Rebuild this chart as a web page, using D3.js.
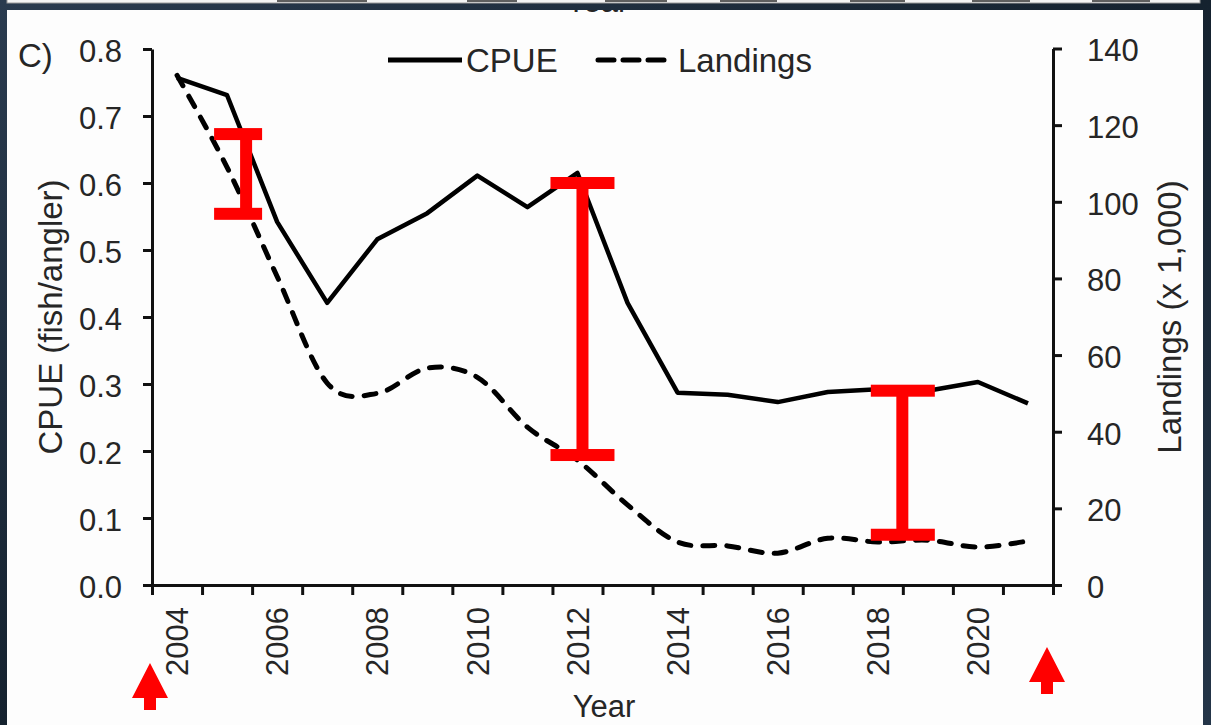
<!DOCTYPE html>
<html>
<head>
<meta charset="utf-8">
<script src="https://cdn.jsdelivr.net/npm/d3@7"></script>
<style>
  html, body { margin: 0; padding: 0; background: #1c2a3a; }
  svg { display: block; }
  text { font-family: "Liberation Sans", Arial, sans-serif; fill: #262626; }
</style>
</head>
<body>
<svg id="chart" width="1211" height="725"></svg>
<script>
// Years on the category axis
const years = d3.range(2004, 2022);
const yearLabels = [2004, 2006, 2008, 2010, 2012, 2014, 2016, 2018, 2020];

// Catch per unit effort (fish/angler)
const cpue = [0.757, 0.731, 0.542, 0.421, 0.516, 0.555, 0.611, 0.564, 0.615, 0.421,
              0.287, 0.284, 0.273, 0.288, 0.292, 0.290, 0.303, 0.271];

// Landings (x 1,000 fish)
const landings = [133, 109, 80.5, 52.7, 50, 56.6, 54.2, 41.2, 32.6, 20.9,
                  11.2, 10.2, 8.3, 12.2, 11.2, 11.7, 9.9, 11.5];

// Axis ticks
const cpueTicks = [0, 0.1, 0.2, 0.3, 0.4, 0.5, 0.6, 0.7, 0.8];
const landingTicks = [0, 20, 40, 60, 80, 100, 120, 140];

// Red range markers (year position, CPUE-scale top and bottom)
const markerYears = [2005.38, 2012.1, 2018.49];
const markerCapYears = [2005.22, 2012.1, 2018.5];
const markerTop = [0.673, 0.600, 0.290];
const markerBottom = [0.554, 0.194, 0.075];

// Red arrows under the axis ends (year position)
const arrowYears = [2003.46, 2021.38];

const svg = d3.select("#chart");

// ---- slide background and panel ----
const defs = svg.append("defs");
const bg = defs.append("linearGradient").attr("id", "bg").attr("x1", 0).attr("y1", 0).attr("x2", 1).attr("y2", 1);
bg.append("stop").attr("offset", "0%").attr("stop-color", "#2a3b4f");
bg.append("stop").attr("offset", "50%").attr("stop-color", "#15222f");
bg.append("stop").attr("offset", "100%").attr("stop-color", "#243548");
svg.append("rect").attr("width", 1211).attr("height", 725).attr("fill", "url(#bg)");

// bottom edge of the panel above, with the feet of its labels
svg.append("rect").attr("x", 7).attr("y", -2).attr("width", 1193).attr("height", 5)
  .attr("fill", "#f4f4f4").attr("stroke", "#9a9a9a").attr("stroke-width", 1);
const feet = [[277, 367], [467, 517], [605, 667], [720, 777], [850, 905], [972, 1030], [1092, 1150]];
svg.append("g").selectAll("rect").data(feet).join("rect")
  .attr("x", d => d[0]).attr("y", 0).attr("width", d => d[1] - d[0]).attr("height", 2)
  .attr("fill", "#3a3a3a").attr("opacity", 0.8);

// main panel
svg.append("rect").attr("x", 7).attr("y", 10).attr("width", 1196).attr("height", 715).attr("fill", "#fdfdfd");
defs.append("clipPath").attr("id", "panelclip").append("rect").attr("x", 7).attr("y", 10).attr("width", 1196).attr("height", 715);
svg.append("g").attr("clip-path", "url(#panelclip)")
  .append("text").attr("x", 597).attr("y", 12).attr("text-anchor", "middle").attr("font-size", 31).text("Year");

// ---- scales ----
const plotLeft = 152, plotRight = 1053, plotTop = 49, plotBottom = 585;
const x = d3.scaleBand().domain(years).range([plotLeft, plotRight]).padding(0);
const xEdge = d3.scaleLinear().domain([2004, 2022]).range([plotLeft, plotRight]);
const xYear = d => xEdge(d + 0.5);
const yL = d3.scaleLinear().domain([0, 0.8]).range([plotBottom, plotTop]);
const yR = d3.scaleLinear().domain([0, 140]).range([plotBottom, plotTop - 0.5]);

const axisStyle = g => {
  g.selectAll("path.domain").attr("stroke", "#111").attr("stroke-width", 3);
  g.selectAll(".tick line").attr("stroke", "#111").attr("stroke-width", 3);
  g.selectAll("text").attr("fill", "#262626").attr("font-family", "Liberation Sans, Arial, sans-serif");
};

// left axis
svg.append("g").attr("transform", `translate(${plotLeft},0)`)
  .call(d3.axisLeft(yL).tickValues(cpueTicks).tickFormat(d3.format(".1f")).tickSize(9).tickSizeOuter(0).tickPadding(21))
  .call(axisStyle)
  .call(g => g.selectAll("text").attr("font-size", 31).attr("dy", "0.4em"));

// right axis
svg.append("g").attr("transform", `translate(${plotRight},0)`)
  .call(d3.axisRight(yR).tickValues(landingTicks).tickSize(9).tickSizeOuter(0).tickPadding(25))
  .call(axisStyle)
  .call(g => g.selectAll("text").attr("font-size", 31).attr("dy", "0.4em"));

// bottom axis: ticks on category boundaries
svg.append("g").attr("transform", `translate(0,${plotBottom})`)
  .call(d3.axisBottom(xEdge).tickValues(d3.range(2004, 2023)).tickFormat("").tickSize(10).tickSizeOuter(0))
  .call(axisStyle);

// year labels, rotated, centred in each category
svg.append("g").selectAll("text").data(yearLabels).join("text")
  .attr("transform", d => `translate(${x(d) + x.bandwidth() / 2},607) rotate(-90)`)
  .attr("text-anchor", "end").attr("dy", "0.36em")
  .attr("font-size", 31).text(d => d);

// axis titles
svg.append("text").attr("x", 604).attr("y", 717).attr("text-anchor", "middle").attr("font-size", 31).text("Year");
svg.append("text").attr("transform", `translate(50,${(plotTop + plotBottom) / 2}) rotate(-90)`)
  .attr("text-anchor", "middle").attr("dy", "0.36em").attr("font-size", 33).text("CPUE (fish/angler)");
svg.append("text").attr("transform", `translate(1169,${(plotTop + plotBottom) / 2}) rotate(-90)`)
  .attr("text-anchor", "middle").attr("dy", "0.36em").attr("font-size", 33).text("Landings (x 1,000)");
svg.append("text").attr("x", 18).attr("y", 67).attr("font-size", 33).text("C)");

// ---- series ----
const cx = (d, i) => x(years[i]) + x.bandwidth() / 2;
svg.append("path").datum(landings)
  .attr("d", d3.line().x(cx).y(d => yR(d)).curve(d3.curveCardinal.tension(0)))
  .attr("fill", "none").attr("stroke", "#000").attr("stroke-width", 5)
  .attr("stroke-dasharray", "12,12").attr("stroke-linecap", "round");
svg.append("path").datum(cpue)
  .attr("d", d3.line().x(cx).y(d => yL(d)))
  .attr("fill", "none").attr("stroke", "#000").attr("stroke-width", 4.5).attr("stroke-linejoin", "round");

// ---- legend ----
svg.append("line").attr("x1", 388).attr("x2", 462).attr("y1", 60).attr("y2", 60)
  .attr("stroke", "#000").attr("stroke-width", 5);
svg.append("text").attr("x", 466).attr("y", 72).attr("font-size", 33).text("CPUE");
svg.append("line").attr("x1", 598).attr("x2", 665).attr("y1", 60).attr("y2", 60)
  .attr("stroke", "#000").attr("stroke-width", 5).attr("stroke-dasharray", "16,9").attr("stroke-linecap", "round");
svg.append("text").attr("x", 678).attr("y", 72).attr("font-size", 33).text("Landings");

// ---- red range markers ----
const red = "#ff0000";
const markers = svg.append("g").attr("fill", red);
markerYears.forEach((yr, i) => {
  const bx = xYear(yr), capX = xYear(markerCapYears[i]);
  const capW = i === 0 ? 48 : 64, thick = 12;
  const y1 = yL(markerTop[i]), y2 = yL(markerBottom[i]);
  markers.append("rect").attr("x", bx - 6).attr("y", y1).attr("width", 12).attr("height", y2 - y1);
  markers.append("rect").attr("x", capX - capW / 2).attr("y", y1 - thick / 2).attr("width", capW).attr("height", thick);
  markers.append("rect").attr("x", capX - capW / 2).attr("y", y2 - thick / 2).attr("width", capW).attr("height", thick);
});

// ---- red arrows ----
const arrowTips = [plotBottom + 78, plotBottom + 62];
arrowYears.forEach((yr, i) => {
  const ax = xYear(yr), ty = arrowTips[i];
  svg.append("path")
    .attr("d", `M${ax},${ty} L${ax + 18},${ty + 35} L${ax + 6},${ty + 35} L${ax + 6},${ty + 47} L${ax - 6},${ty + 47} L${ax - 6},${ty + 35} L${ax - 18},${ty + 35} Z`)
    .attr("fill", red);
});
</script>
</body>
</html>
